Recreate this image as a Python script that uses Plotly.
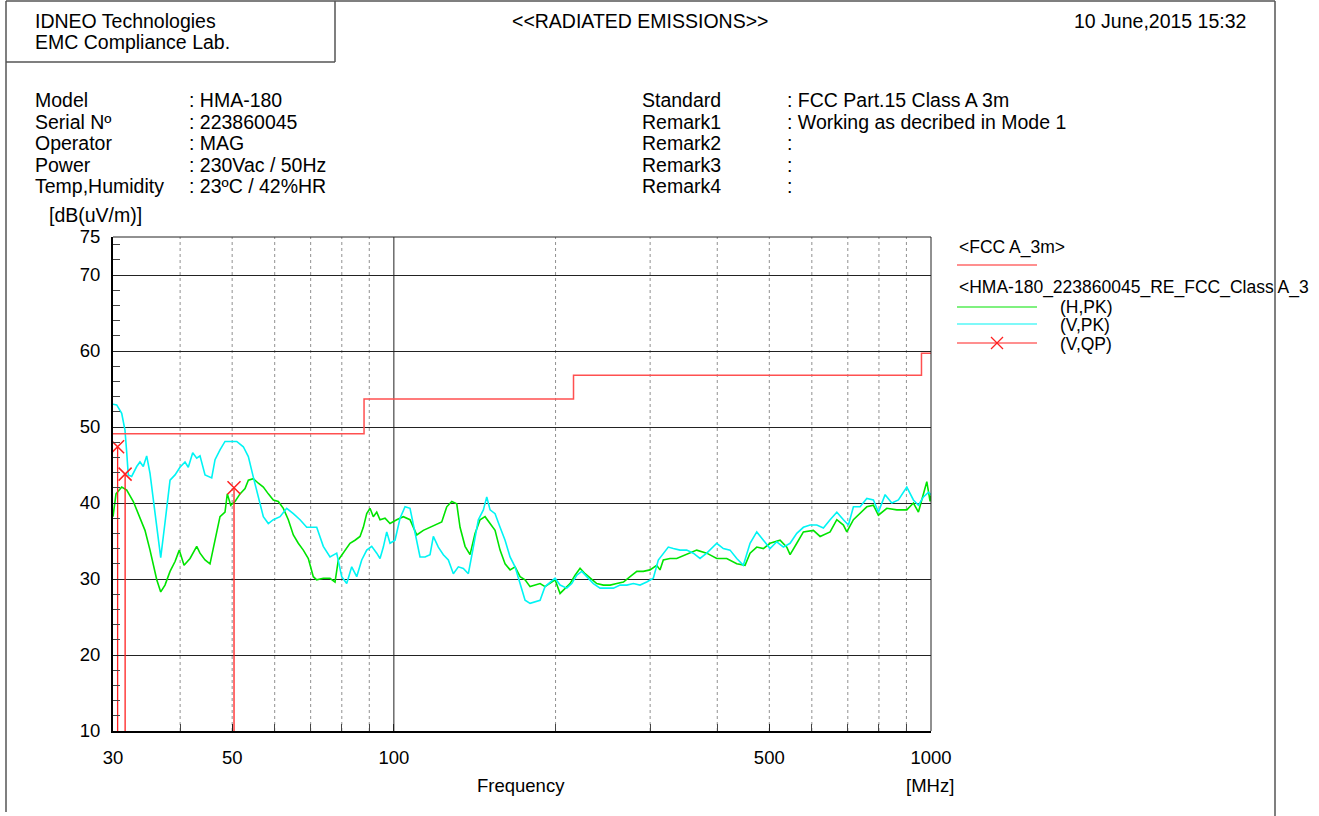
import plotly.graph_objects as go

W, H = 1319, 816

# ---------------- data ----------------
limit_freq = [30, 88, 216, 960, 1000]
limit_level = [49.1, 53.7, 56.8, 59.7, 59.7]

h_pk_freq = [30.0, 30.39, 31.14, 31.82, 32.73, 33.44, 34.41, 35.16, 36.19, 36.81, 37.49, 38.31, 39.14, 39.86,
             40.68, 41.74, 42.95, 43.56, 44.51, 45.47, 46.46, 47.46, 48.49, 48.97, 49.69, 50.62, 51.71, 52.84,
             53.59, 54.75, 55.94, 57.15, 58.38, 59.65, 60.94, 62.26, 63.61, 64.99, 66.39, 67.83, 69.30, 70.80,
             71.84, 73.90, 76.06, 77.71, 78.81, 80.52, 82.86, 84.66, 86.50, 87.73, 89.02, 90.29, 91.57, 92.92,
             94.24, 96.29, 98.37, 101.24, 104.14, 107.17, 110.30, 113.47, 116.77, 120.18, 122.78, 125.45,
             128.17, 130.94, 132.81, 135.69, 138.63, 141.63, 144.70, 147.84, 151.05, 154.32, 157.66, 161.08,
             164.57, 168.14, 171.78, 175.50, 179.30, 183.19, 187.16, 191.21, 195.35, 199.59, 203.91, 208.33,
             212.84, 217.45, 222.16, 226.98, 231.90, 238.65, 245.51, 252.68, 260.04, 267.52, 275.32, 283.34,
             291.32, 299.82, 308.56, 312.95, 317.41, 326.64, 336.17, 350.90, 366.30, 382.36, 399.13, 416.62,
             434.87, 450.62, 460.40, 473.82, 487.42, 501.64, 523.64, 538.91, 546.60, 562.53, 578.66, 604.02,
             621.63, 648.90, 667.82, 686.98, 697.07, 717.07, 737.96, 759.46, 781.26, 798.17, 827.47, 863.70,
             901.50, 927.37, 947.47, 967.98, 982.15, 996.14, 1000]
h_pk_level = [38.2, 41.2, 42.1, 41.7, 40.2, 38.6, 36.4, 33.8, 29.9, 28.3, 29.2, 31.0, 32.3, 33.8,
              31.8, 32.7, 34.3, 33.4, 32.5, 32.0, 35.1, 38.2, 38.8, 41.2, 39.7, 40.2, 41.2, 41.9,
              43.0, 43.2, 42.6, 42.1, 41.2, 40.4, 40.2, 39.3, 37.8, 35.8, 34.7, 33.8, 32.7, 30.3,
              29.9, 30.1, 30.1, 29.6, 32.5, 33.4, 34.7, 35.1, 35.6, 36.8, 38.6, 39.3, 38.2, 38.8,
              37.8, 38.0, 37.3, 37.8, 38.2, 37.8, 35.8, 36.4, 36.8, 37.1, 37.5, 39.5,
              40.2, 39.9, 36.8, 34.3, 33.2, 36.0, 37.8, 38.2, 37.3, 36.4, 33.8, 32.0,
              31.2, 31.6, 30.3, 29.9, 29.0, 29.2, 29.4, 29.0, 29.4, 29.9, 28.1, 28.8,
              29.4, 30.5, 31.4, 30.7, 30.1, 29.4, 29.2, 29.2, 29.4, 29.6, 30.3, 31.0,
              31.0, 31.2, 31.8, 31.2, 32.5, 32.7, 32.7, 33.2, 33.8, 33.4, 32.7, 32.7,
              32.0, 31.8, 33.4, 34.2, 34.0, 34.7, 35.1, 34.2, 33.2, 34.7, 36.2, 36.4,
              35.6, 36.2, 37.8, 37.1, 36.2, 37.8, 38.6, 39.5, 39.7, 38.4, 39.3, 39.1,
              39.1, 40.0, 38.8, 41.2, 42.8, 40.2, 41.0]

v_pk_freq = [30.0, 30.48, 31.14, 31.58, 31.82, 32.03, 32.50, 33.21, 33.68, 34.16, 34.66, 35.16, 35.92, 36.81,
             37.49, 38.31, 39.14, 39.98, 40.85, 41.43, 42.22, 42.95, 43.56, 44.51, 45.80, 46.46, 47.46, 48.49,
             49.54, 50.99, 52.45, 53.59, 54.75, 55.94, 57.15, 58.38, 59.65, 61.39, 63.17, 64.99, 66.88, 68.83,
             71.84, 73.90, 76.06, 78.27, 79.97, 81.70, 83.47, 85.28, 87.13, 89.02, 90.95, 92.92, 94.24, 95.59,
             96.99, 98.37, 100.49, 102.68, 104.90, 107.17, 109.49, 111.87, 114.30, 116.77, 118.44, 121.00,
             123.63, 126.31, 129.05, 131.84, 134.70, 137.62, 140.60, 143.65, 146.77, 148.92, 151.05, 154.32,
             157.66, 161.08, 164.57, 168.14, 171.78, 175.50, 179.30, 183.19, 187.16, 191.21, 195.35, 199.59,
             203.91, 209.85, 214.40, 219.04, 223.79, 228.64, 235.20, 242.07, 249.12, 256.28, 263.75, 271.45,
             279.24, 287.24, 295.60, 304.09, 310.68, 317.41, 324.28, 331.31, 340.96, 350.90, 361.00, 371.52,
             382.36, 399.13, 410.58, 422.56, 434.87, 447.35, 460.40, 473.82, 487.42, 501.64, 516.27, 531.11,
             546.60, 562.53, 578.66, 595.54, 612.88, 630.51, 648.90, 667.82, 686.98, 701.87, 717.07, 737.96,
             759.46, 781.26, 798.17, 821.45, 845.37, 869.63, 901.50, 927.37, 947.47, 967.98, 988.91, 1000]
v_pk_level = [53.0, 52.9, 51.8, 49.6, 46.6, 43.7, 43.5, 44.8, 45.4, 44.8, 46.2, 43.9, 38.7, 32.8,
              37.4, 43.0, 43.7, 44.7, 45.4, 44.7, 46.6, 45.9, 46.2, 43.7, 43.3, 45.7, 47.0, 48.1,
              48.1, 48.1, 47.4, 46.1, 43.4, 40.8, 38.2, 37.3, 37.8, 38.2, 39.3, 38.6, 37.8, 36.8,
              36.8, 34.3, 32.9, 33.4, 30.3, 29.4, 31.6, 30.3, 32.5, 33.8, 34.3, 33.4, 32.7, 34.2,
              36.2, 34.7, 35.1, 38.0, 39.5, 39.3, 36.0, 32.9, 32.9, 33.2, 35.6, 34.2,
              33.2, 32.5, 30.7, 31.6, 31.4, 30.7, 34.2, 37.8, 39.1, 40.8, 39.1, 38.6,
              36.8, 35.1, 32.9, 31.6, 29.4, 27.2, 26.8, 27.0, 27.2, 29.0, 29.6, 30.1,
              29.2, 28.8, 29.4, 30.5, 31.0, 30.3, 29.4, 28.8, 28.8, 28.8, 29.2, 29.2,
              29.4, 29.2, 29.6, 30.1, 32.5, 33.4, 34.2, 34.0, 33.8, 33.8, 33.4, 32.7,
              33.4, 34.7, 34.0, 33.8, 32.7, 31.8, 34.7, 36.2, 35.1, 34.0, 34.9, 34.2,
              34.7, 36.0, 36.8, 37.1, 37.1, 36.7, 37.8, 38.8, 37.8, 37.1, 39.5, 39.5,
              40.6, 40.4, 38.8, 41.1, 40.0, 40.4, 42.1, 40.4, 39.7, 40.8, 41.4, 41.1]

qp_freq = [30.6, 31.6, 50.4]
qp_level = [47.4, 43.8, 42.0]

x_tick_vals = [30, 50, 100, 500, 1000]
x_tick_text = ["30", "50", "100", "500", "1000"]
x_grid_minor = [40, 60, 70, 80, 90, 200, 300, 400, 600, 700, 800, 900]
y_tick_vals = [10, 20, 30, 40, 50, 60, 70, 75]

# ---------------- styling ----------------
FONT = "Liberation Sans, Arial, sans-serif"
FS = 19.5
FS_TICK = 18.5
FS_LEG = 17.5
GREEN = "#00e400"
CYAN = "#00f4f4"
RED = "#ff2020"


def px(x):
    return x / W


def py(y):
    return 1 - y / H


fig = go.Figure()

fig.add_trace(go.Scatter(x=h_pk_freq, y=h_pk_level, mode="lines",
                         line=dict(color=GREEN, width=1.6), showlegend=False))
fig.add_trace(go.Scatter(x=v_pk_freq, y=v_pk_level, mode="lines",
                         line=dict(color=CYAN, width=1.6), showlegend=False))
fig.add_trace(go.Scatter(x=limit_freq, y=limit_level, mode="lines", line_shape="hv",
                         line=dict(color="#ff5050", width=1.5), showlegend=False))
for f, v in zip(qp_freq, qp_level):
    fig.add_trace(go.Scatter(x=[f, f], y=[10, v], mode="lines",
                             line=dict(color=RED, width=1.3), showlegend=False))
fig.add_trace(go.Scatter(x=qp_freq, y=qp_level, mode="markers",
                         marker=dict(symbol="x-thin", size=13, line=dict(color=RED, width=1.5)),
                         showlegend=False))

shapes = []
for g in x_grid_minor + [50, 500]:
    shapes.append(dict(type="line", xref="x", yref="y domain", x0=g, x1=g, y0=0, y1=1,
                       line=dict(color="#909090", width=1, dash="dot"), layer="below"))
shapes.append(dict(type="line", xref="x", yref="y domain", x0=100, x1=100, y0=0, y1=1,
                   line=dict(color="#222", width=1), layer="below"))
shapes.append(dict(type="line", xref="x domain", yref="y domain", x0=0, x1=1, y0=1, y1=1,
                   line=dict(color="#222", width=1)))
shapes.append(dict(type="line", xref="x domain", yref="y domain", x0=1, x1=1, y0=0, y1=1,
                   line=dict(color="#222", width=1)))
frame = [(6, 1, 1275, 1), (6, 1, 6, 812), (1275, 1, 1275, 816), (6, 62, 335, 62), (335, 1, 335, 62)]
for x0, y0, x1, y1 in frame:
    shapes.append(dict(type="line", xref="paper", yref="paper", x0=px(x0), x1=px(x1), y0=py(y0), y1=py(y1),
                       line=dict(color="#555", width=1.5)))
for yy, col in [(265, RED), (307, GREEN), (324, CYAN), (343, RED)]:
    shapes.append(dict(type="line", xref="paper", yref="paper", x0=px(957), x1=px(1037), y0=py(yy), y1=py(yy),
                       line=dict(color=col, width=1.2)))
for dx in (-6, 6):
    shapes.append(dict(type="line", xref="paper", yref="paper", x0=px(997 - dx), x1=px(997 + dx),
                       y0=py(337), y1=py(349), line=dict(color=RED, width=1.3)))

ann = []


def text(t, x, y, xanchor="left", size=FS):
    ann.append(dict(text=t, x=px(x), y=py(y), xref="paper", yref="paper", xanchor=xanchor, yanchor="middle",
                    showarrow=False, font=dict(family=FONT, size=size, color="black")))


text("IDNEO Technologies", 33, 21)
text("EMC Compliance Lab.", 33, 42)
text("&lt;&lt;RADIATED EMISSIONS&gt;&gt;", 640, 21, "center")
text("10 June,2015 15:32", 1248, 21, "right")
left_rows = [("Model", ": HMA-180"), ("Serial Nº", ": 223860045"), ("Operator", ": MAG"),
             ("Power", ": 230Vac / 50Hz"), ("Temp,Humidity", ": 23ºC / 42%HR")]
right_rows = [("Standard", ": FCC Part.15 Class A 3m"), ("Remark1", ": Working as decribed in Mode 1"),
              ("Remark2", ":"), ("Remark3", ":"), ("Remark4", ":")]
row_y = [100, 121.5, 143, 165, 186.5]
for (a, b), (c, d), yy in zip(left_rows, right_rows, row_y):
    text(a, 33, yy)
    text(b, 187, yy)
    text(c, 640, yy)
    text(d, 785, yy)
text("[dB(uV/m)]", 47, 215)
text("Frequency", 521, 785, "center", FS_TICK)
text("[MHz]", 930, 785, "center", FS_TICK)
text("&lt;FCC A_3m&gt;", 957, 247, size=FS_LEG)
text("&lt;HMA-180_223860045_RE_FCC_Class A_3", 957, 287, size=FS_LEG)
text("(H,PK)", 1058, 307, size=FS_LEG)
text("(V,PK)", 1058, 325, size=FS_LEG)
text("(V,QP)", 1058, 344, size=FS_LEG)

fig.update_layout(
    width=W, height=H, margin=dict(l=0, r=0, t=0, b=0, autoexpand=False),
    paper_bgcolor="white", plot_bgcolor="white",
    shapes=shapes, annotations=ann, showlegend=False,
    font=dict(family=FONT, size=FS, color="black"),
    xaxis=dict(type="log", range=[1.4771213, 3.0], domain=[px(113), px(931)], automargin=False,
               tickvals=x_tick_vals, ticktext=x_tick_text, ticks="inside", ticklen=7, tickcolor="#222",
               showgrid=False, zeroline=False, showline=True, linecolor="black", linewidth=2,
               ticklabelstandoff=9, tickfont=dict(size=FS_TICK),
               minor=dict(tickvals=x_grid_minor, ticks="inside", ticklen=7, tickcolor="#444", showgrid=False)),
    yaxis=dict(range=[10, 75], domain=[py(731), py(237)], automargin=False,
               tickvals=y_tick_vals, ticks="inside", ticklen=7, tickcolor="#222",
               showgrid=True, gridcolor="#222", gridwidth=1, zeroline=False,
               showline=True, linecolor="black", linewidth=2, ticklabelstandoff=7,
               tickfont=dict(size=FS_TICK),
               minor=dict(dtick=2, tick0=10, ticks="inside", ticklen=7, tickcolor="#444", showgrid=False)),
)

fig.write_html("out.html", config={"displayModeBar": False},
               post_script="document.body.style.margin='0';document.body.style.overflow='hidden';")
